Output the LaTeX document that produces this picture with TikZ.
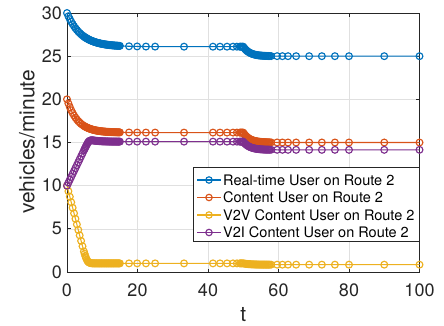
\documentclass[tikz,border=0pt]{standalone}
\usepackage{fontspec}
\setmainfont{TeX Gyre Heros}
\definecolor{mblue}{rgb}{0,0.447,0.741}
\definecolor{morange}{rgb}{0.850,0.325,0.098}
\definecolor{myellow}{rgb}{0.929,0.694,0.125}
\definecolor{mpurple}{rgb}{0.494,0.184,0.556}
\definecolor{axgray}{rgb}{0.15,0.15,0.15}
\definecolor{gridgray}{rgb}{0.88,0.88,0.88}
\tikzset{
  declare function={
    spl(\x,\k)=max(\x,0)+\k*ln(1+exp(-abs(\x)/\k));
    smin(\x,\y,\k)=min(\x,\y)-\k*ln(1+exp(-abs(\x-\y)/\k));
    late(\x,\k)=1-exp(-max(\x-50,0)/\k);
    fb(\x)=26.1+3.9*exp(-\x/4)-1.1*late(\x,1.8);
    fo(\x)=16.15+3.85*exp(-\x/3)-1.15*late(\x,1.8);
    fy(\x)=1+spl(9-1.6*\x,0.6)-0.15*late(\x,1.8);
    fp(\x)=10+smin(0.85*\x,5.4,0.25)-0.3*(1-exp(-max(\x-6,0)/2))-0.95*late(\x,1.8);
  },
  series/.style={line width=1.1pt},
  ringmark/.style={line width=1.15pt},
  ticklab/.style={font=\fontsize{18}{20}\selectfont, text=axgray, inner sep=0pt},
  axlab/.style={font=\fontsize{21}{24}\selectfont, text=axgray, inner sep=0pt},
  legtext/.style={font=\fontsize{14.5}{17}\selectfont, text=black, inner sep=0pt, anchor=west},
}
\def\tlist{0,0.4,...,4.8,5,5.2,...,15,17.6,19.9,22.4,25,33.2,41.4,43.4,45.4,47.1,48.2,49,49.25,...,57.5,57.9,59.6,61.1,62.7,65,68.7,72.3,76,80,90,100}
\begin{document}
\begin{tikzpicture}[x=3.525pt,y=8.633pt]
  \useasboundingbox (-67pt,-53pt) rectangle (377pt,272pt);
  % grid
  \foreach \v in {20,40,60,80} \draw[gridgray, line width=0.6pt] (\v,0) -- (\v,30);
  \foreach \v in {5,10,...,25} \draw[gridgray, line width=0.6pt] (0,\v) -- (100,\v);
  % axes box and ticks
  \draw[axgray, line width=0.8pt] (0,0) rectangle (100,30);
  \foreach \v in {0,20,...,100} {
    \draw[axgray, line width=0.8pt] (\v,0) -- ++(0,3.5pt) (\v,30) -- ++(0,-3.5pt);
    \node[ticklab, anchor=base, yshift=-24.5pt] (xt\v) at (\v,0) {\v};
  }
  \foreach \v in {0,5,...,30} {
    \draw[axgray, line width=0.8pt] (0,\v) -- ++(3.5pt,0) (100,\v) -- ++(-3.5pt,0);
    \node[ticklab, anchor=east, xshift=-5pt] (yt\v) at (0,\v) {\v};
  }
  \node[axlab, rotate=90] (ylab) at (-40pt,130pt) {vehicles/minute};
  \node[axlab, anchor=base] (xlab) at (50,0) [yshift=-49.5pt] {t};
  % data series: a line through the solver steps, a ring at each step
  \foreach \c/\f in {mblue/fb, morange/fo, myellow/fy, mpurple/fp} {
    \draw[series, \c] plot[samples at=\tlist] (\x,{\f(\x)});
    \foreach \t in \tlist
      \draw[ringmark, \c] (\t,{\f(\t)}) circle (3.4pt);
  }
  % legend
  \node[draw=axgray, line width=0.7pt, fill=white, minimum width=226pt, minimum height=74pt, anchor=south west, inner sep=0pt] (legend) at (126pt,30pt) {};
  \foreach \c/\yy/\txt [count=\i] in {mblue/92/Real-time User on Route 2, morange/74.5/Content User on Route 2, myellow/57/V2V Content User on Route 2, mpurple/39.5/V2I Content User on Route 2} {
    \draw[series, \c] (130pt,\yy pt) -- (154pt,\yy pt);
    \draw[ringmark, \c] (142pt,\yy pt) circle (3.2pt);
    \node[legtext] (leg\i) at (156pt,\yy pt) {\txt};
  }
\end{tikzpicture}
\end{document}
